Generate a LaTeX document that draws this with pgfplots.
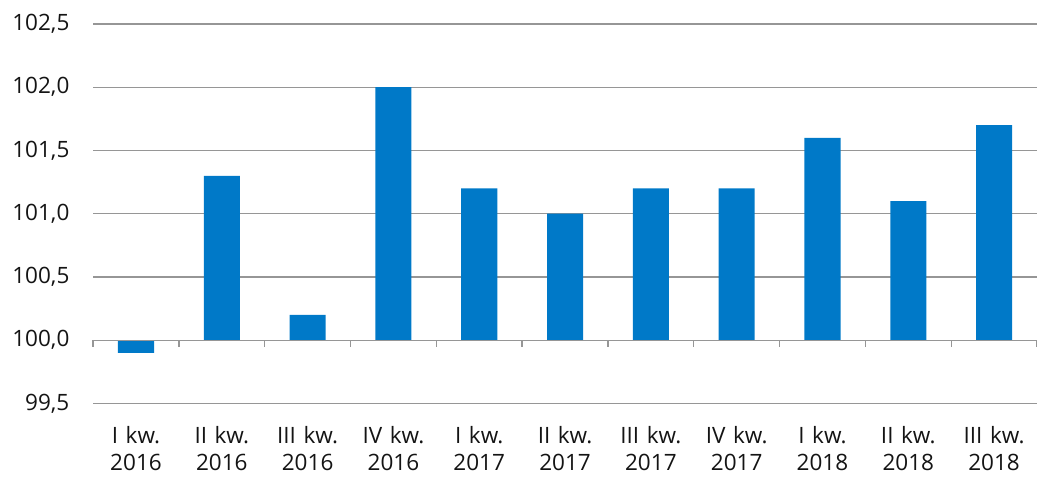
\documentclass[border=0pt]{standalone}
\usepackage{fontspec}
\setmainfont[WordSpace=1.3]{Open Sans}
\usepackage{pgfplots}
\usepackage{pgfplotstable}
\pgfplotsset{compat=1.18}
\definecolor{barblue}{RGB}{0,121,200}
\definecolor{gridgray}{RGB}{150,150,150}

% values in %, index base 100
\pgfplotstableread{
x v
0 99.9
1 101.3
2 100.2
3 102.0
4 101.2
5 101.0
6 101.2
7 101.2
8 101.6
9 101.1
10 101.7
}\kw

\begin{document}
\fontsize{22.5pt}{27pt}\selectfont
\begin{tikzpicture}
\path[use as bounding box] (-93pt,-75pt) rectangle (943pt,403pt);
\begin{axis}[
    at={(0,0)}, anchor=south west,
    scale only axis,
    width=943pt, height=379pt,
    xmin=-0.5, xmax=10.5,
    ymin=-0.5, ymax=2.5,
    axis line style={draw=none},
    ytick={-0.5,0,...,2.5},
    yticklabels={{99,5},{100,0},{100,5},{101,0},{101,5},{102,0},{102,5}},
    ymajorgrids=true,
    major grid style={gridgray, line width=1.3pt},
    major tick length=0pt,
    yticklabel style={anchor=east, xshift=-16pt, text=black!92},
    xtick={0,...,10},
    xticklabels={{I kw.\\2016},{II kw.\\2016},{III kw.\\2016},{IV kw.\\2016},
                 {I kw.\\2017},{II kw.\\2017},{III kw.\\2017},{IV kw.\\2017},
                 {I kw.\\2018},{II kw.\\2018},{III kw.\\2018}},
    xticklabel style={align=center, anchor=north, yshift=-15pt, text=black!92},
    ticklabel style={font=\fontsize{22.5pt}{27pt}\selectfont},
    clip=false,
]
\addplot[ybar, bar width=36pt, bar shift=0pt, fill=barblue, draw=none]
    table[x=x, y expr=\thisrow{v}-100] {\kw};
\draw[gridgray, line width=1.3pt] (axis cs:-0.5,0) -- (axis cs:10.5,0);
\pgfplotsinvokeforeach{-0.5,0.5,...,10.5}{
    \draw[gridgray, line width=1.3pt] (axis cs:#1,0) -- ++(0pt,-7pt);
}
\end{axis}
\end{tikzpicture}
\end{document}
